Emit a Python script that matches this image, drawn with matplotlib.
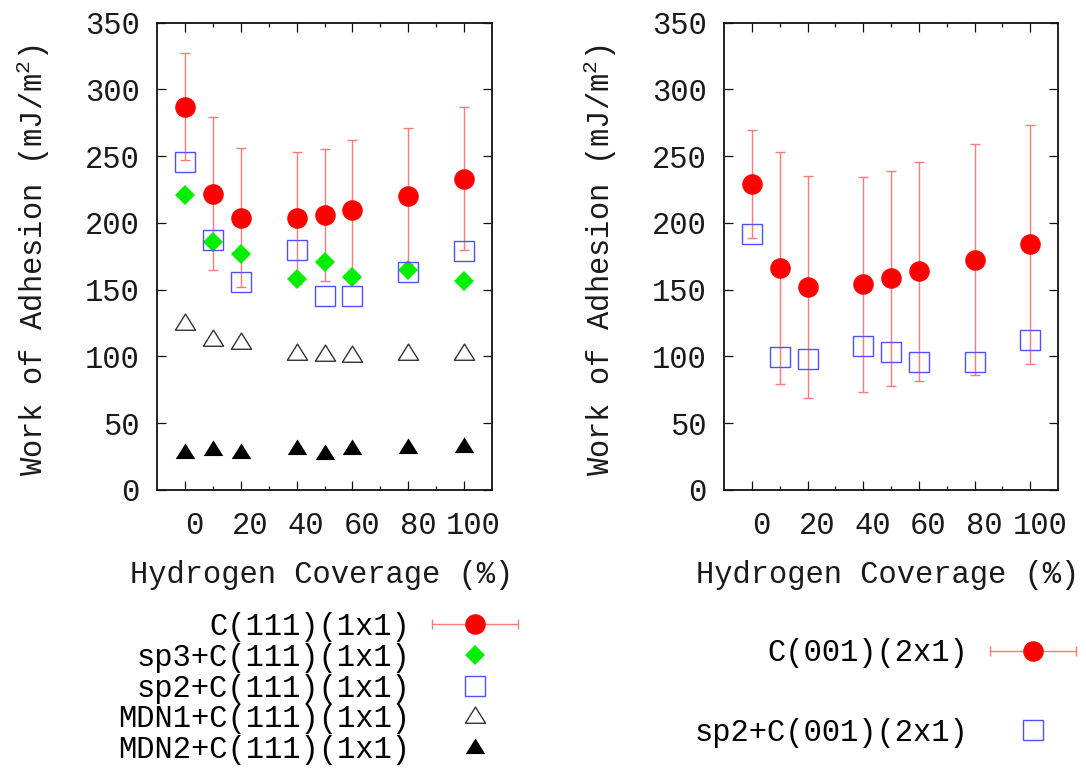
import numpy as np
import matplotlib
matplotlib.use('Agg')
import matplotlib.pyplot as plt
from matplotlib.path import Path
from matplotlib.container import ErrorbarContainer
from matplotlib.legend_handler import HandlerErrorbar
from matplotlib.transforms import ScaledTranslation

plt.rcParams['font.family'] = 'Liberation Mono'
plt.rcParams['mathtext.fontset'] = 'custom'
plt.rcParams['mathtext.rm'] = 'Liberation Mono'
plt.rcParams['mathtext.it'] = 'Liberation Mono'

# hydrogen coverage (%)
coverage = [0, 10, 20, 40, 50, 60, 80, 100]

# left panel: C(111)(1x1) based interfaces
c111 = [287, 222, 204, 203.5, 206, 209.5, 220.5, 233]
c111_err = [40, 57.5, 52, 49.5, 49.5, 52.5, 51, 53.5]
sp3_c111 = [221, 186, 176.5, 158, 171, 159.5, 165, 156.5]
sp2_c111 = [245.5, 187, 155.5, 179.5, 145.5, 145.5, 163, 179]
mdn1_c111 = [124.5, 112, 110, 102, 101, 100, 101.5, 102]
mdn2_c111 = [28, 30, 28, 30.5, 27, 31, 31.5, 32.5]

# right panel: C(001)(2x1) based interfaces
c001 = [229.5, 166.5, 152, 154, 158.5, 164, 172.5, 184]
c001_err = [40.5, 87, 83, 80.5, 80.5, 82, 86.5, 89.5]
sp2_c001 = [192, 99.5, 98, 107.5, 103, 95.5, 95.5, 112]

FS = 22
RED = '#ff0000'
ERR = '#ff7a7a'
GREEN = '#00ee00'
BLUE = '#5050ff'

# gnuplot-like triangle (wider than tall, point sits below the middle)
tri = Path([(0, 10.3), (-10, -5.7), (10, -5.7), (0, 10.3)],
           [Path.MOVETO, Path.LINETO, Path.LINETO, Path.CLOSEPOLY])

fig = plt.figure(figsize=(10.86, 7.69), dpi=100)
ax1 = fig.add_axes([0.14457, 0.36281, 0.30847, 0.60767])
ax2 = fig.add_axes([0.66667, 0.36281, 0.30755, 0.60767])


def errorbar_series(ax, y, err, label):
    eb = ax.errorbar(coverage, y, yerr=err, fmt='o', color=RED, mec=RED, ms=13.8,
                     ecolor=ERR, elinewidth=1.0, capsize=3.6, capthick=1.0, zorder=3)
    # legend entry drawn with a horizontal bar like gnuplot's key
    return ErrorbarContainer(eb.lines, has_xerr=True, has_yerr=False, label=label)


def style_axes(ax):
    ax.set_xlim(-10, 110)
    ax.set_ylim(0, 350)
    ax.set_xticks(np.arange(0, 101, 20))
    ax.set_xticks(np.arange(10, 100, 20), minor=True)
    ax.set_yticks(np.arange(0, 351, 50))
    ax.tick_params(which='both', direction='in', top=True, right=True, width=0.9,
                   color='#111111', labelsize=FS, labelcolor='#1a1a1a')
    ax.tick_params(which='major', length=6.5)
    ax.tick_params(which='minor', length=3.2)
    ax.tick_params(axis='x', pad=15)
    ax.tick_params(axis='y', pad=12.5)
    for s in ax.spines.values():
        s.set_linewidth(1.3)
        s.set_color('#111111')
    ax.set_xlabel('Hydrogen Coverage (%)', fontsize=FS, color='#1a1a1a')
    ax.set_ylabel('Work of Adhesion (mJ/m$^2$)', fontsize=FS, color='#1a1a1a')
    ax.xaxis.set_label_coords(0.491, -0.15)
    ax.yaxis.set_label_coords(-0.314, 0.493)
    # gnuplot puts the x tick labels a little to the right of the ticks
    shift = ScaledTranslation(0.095, 0, fig.dpi_scale_trans)
    for lab in ax.get_xticklabels():
        lab.set_transform(lab.get_transform() + shift)


# ---- left panel ----
h1 = errorbar_series(ax1, c111, c111_err, 'C(111)(1x1)')
h2, = ax1.plot(coverage, sp3_c111, 'D', color=GREEN, ms=10.5, mew=0, ls='none',
               zorder=4, label='sp3+C(111)(1x1)')
h3, = ax1.plot(coverage, sp2_c111, 's', mfc='none', mec=BLUE, ms=14.4, mew=1.0,
               ls='none', zorder=4, label='sp2+C(111)(1x1)')
h4, = ax1.plot(coverage, mdn1_c111, marker=tri, mfc='none', mec='#333333', ms=15,
               mew=1.0, ls='none', zorder=4, label='MDN1+C(111)(1x1)')
h5, = ax1.plot(coverage, mdn2_c111, marker=tri, color='black', ms=14.5, mew=0,
               ls='none', zorder=4, label='MDN2+C(111)(1x1)')
style_axes(ax1)

# ---- right panel ----
g1 = errorbar_series(ax2, c001, c001_err, 'C(001)(2x1)')
g2, = ax2.plot(coverage, sp2_c001, 's', mfc='none', mec=BLUE, ms=14.4, mew=1.0,
               ls='none', zorder=4, label='sp2+C(001)(2x1)')
style_axes(ax2)

legend_kw = dict(loc='upper right', bbox_transform=fig.transFigure, frameon=False,
                 markerfirst=False, fontsize=FS, handlelength=2.8, handletextpad=0.72,
                 borderpad=0, borderaxespad=0, numpoints=1,
                 handler_map={ErrorbarContainer: HandlerErrorbar(xerr_size=1.4)})

ax1.legend(handles=[h1, h2, h3, h4, h5], bbox_to_anchor=(0.4767, 0.2045),
           labelspacing=0.03, **legend_kw)
ax2.legend(handles=[g1, g2], bbox_to_anchor=(0.9908, 0.1700),
           labelspacing=1.62, **legend_kw)

fig.savefig('out.png', dpi=100)
